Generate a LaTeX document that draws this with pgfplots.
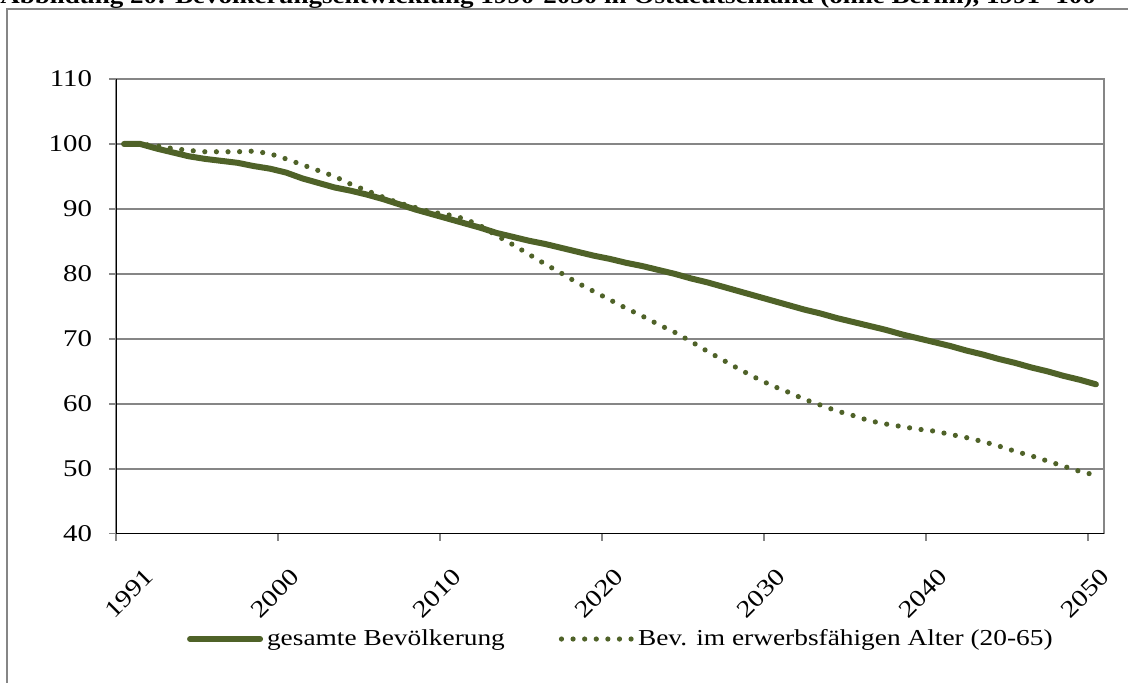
\documentclass[border=0pt]{standalone}
\usepackage{pgfplots}
\usepackage{pgfplotstable}
\pgfplotsset{compat=1.18}
\usepackage{fontspec}
\setmainfont{Liberation Serif}[FakeStretch=1.2]
\definecolor{lineolive}{RGB}{79,98,40}
\definecolor{gridgray}{RGB}{134,134,134}

\pgfplotstableread{
u tot erw
0.5 100.0 100.0
1.5 100.0 100.0
2.5 99.3 99.7
3.5 98.7 99.3
4.5 98.1 99.0
5.5 97.7 98.8
6.5 97.4 98.8
7.5 97.1 98.8
8.5 96.6 98.9
9.5 96.2 98.5
10.5 95.6 97.7
11.5 94.7 96.8
12.5 94.0 95.9
13.5 93.3 95.0
14.5 92.8 93.8
15.5 92.2 92.8
16.5 91.5 91.8
17.5 90.7 90.9
18.5 89.9 90.2
19.5 89.2 89.5
20.5 88.5 89.1
21.5 87.8 88.5
22.5 87.1 87.4
23.5 86.3 85.9
24.5 85.7 84.5
25.5 85.1 83.0
26.5 84.6 81.5
27.5 84.0 80.1
28.5 83.4 78.6
29.5 82.8 77.3
30.5 82.3 76.0
31.5 81.7 74.7
32.5 81.2 73.5
33.5 80.6 72.2
34.5 80.0 71.0
35.5 79.3 69.6
36.5 78.7 68.1
37.5 78.0 66.7
38.5 77.3 65.3
39.5 76.6 64.0
40.5 75.9 62.8
41.5 75.2 61.8
42.5 74.5 60.7
43.5 73.9 59.8
44.5 73.2 58.9
45.5 72.6 58.2
46.5 72.0 57.4
47.5 71.4 56.9
48.5 70.7 56.5
49.5 70.1 56.1
50.5 69.5 55.8
51.5 68.9 55.3
52.5 68.2 54.8
53.5 67.6 54.2
54.5 66.9 53.5
55.5 66.3 52.7
56.5 65.6 52.0
57.5 65.0 51.2
58.5 64.3 50.4
59.5 63.7 49.6
60.5 63.0 49.0
}\datatab

\begin{document}
\begin{tikzpicture}
\useasboundingbox (0,0) rectangle (564pt,341pt);
\clip (0,0) rectangle (564pt,341pt);
% outer frame
\draw[gridgray, line width=0.75pt] (3.5pt,-10pt) -- (3.5pt,336.5pt) -- (580pt,336.5pt);
% title (cut off at the top)
\node[anchor=base west, inner sep=0pt, font=\bfseries\fontsize{11.25}{13}\selectfont] at (0pt,339pt)
  {Abbildung 20: Bevölkerungsentwicklung 1990-2050 in Ostdeutschland (ohne Berlin), 1991=100};
\begin{axis}[
  at={(58pt,74.15pt)}, anchor=south west,
  scale only axis, width=494pt, height=227.35pt,
  xmin=0, xmax=61, ymin=40, ymax=110,
  ytick={40,50,...,110},
  ymajorgrids, grid style={gridgray, line width=0.75pt},
  xtick={0,10,...,60}, xticklabels={},
  extra x ticks={0.5,9.5,19.5,29.5,39.5,49.5,59.5},
  extra x tick labels={1991,2000,2010,2020,2030,2040,2050},
  extra x tick style={grid=none, major tick length=0pt,
    xticklabel style={xshift=12.9pt, yshift=-19.5pt, rotate=45, anchor=east, inner sep=0pt}},
  xtick pos=bottom, ytick pos=left,
  tick align=outside, major tick length=3.5pt,
  tick style={gridgray, line width=0.75pt},
  axis line style={gridgray, line width=0.75pt},
  /pgf/number format/assume math mode=true,
  tick label style={font=\fontsize{12}{14}\selectfont},
  yticklabel style={xshift=-5pt},
  legend style={at={(0.512,-0.2316)}, anchor=center, draw=none, fill=none,
    font=\fontsize{11.4}{13.5}\selectfont,
    /tikz/every even column/.append style={column sep=25pt}},
  legend columns=2,
  legend cell align=left,
  legend image code/.code={\draw[#1] (0pt,0pt) -- (35pt,0pt);},
]
\addplot[lineolive, line width=3pt, line cap=round, line join=round] table[x=u, y=tot] {\datatab};
\addlegendentry{gesamte Bevölkerung}
\addplot[lineolive, line width=2.6pt, line cap=round, dash pattern=on 0pt off 5.8pt] table[x=u, y=erw] {\datatab};
\addlegendentry{Bev. im erwerbsfähigen Alter (20-65)}
\draw[black, line width=0.75pt] (rel axis cs:0,1) -- (rel axis cs:0,0) -- (rel axis cs:1,0);
\end{axis}
\end{tikzpicture}
\end{document}
